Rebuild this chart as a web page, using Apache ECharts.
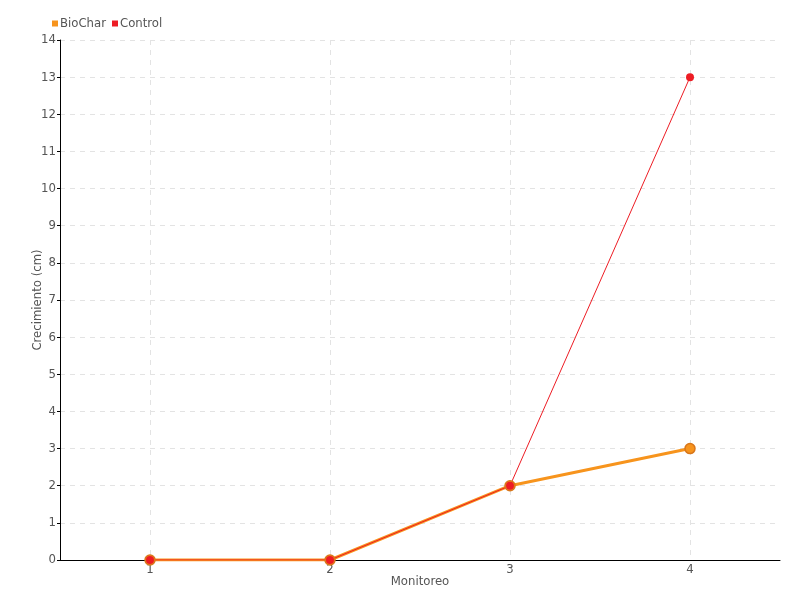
<!DOCTYPE html>
<html><head><meta charset="utf-8">
<script src="https://cdn.jsdelivr.net/npm/echarts@6/dist/echarts.min.js"></script>
<style>html,body{margin:0;padding:0;background:#fff}#c{width:800px;height:600px}</style>
</head><body><div id="c"></div>
<script>
const categories = ['1', '2', '3', '4'];
const biochar = [0, 0, 2, 3];
const control = [0, 0, 2, 13];
const yTicks = [0, 14, 1];

const FONT = 'DejaVu Sans Condensed, DejaVu Sans, sans-serif';
const chart = echarts.init(document.getElementById('c'), null, {renderer: 'canvas'});
chart.setOption({
  animation: false,
  textStyle: {fontFamily: FONT},
  legend: {
    left: 47, top: 12, itemWidth: 6, itemHeight: 6, itemGap: 6,
    icon: 'rect',
    itemStyle: {borderWidth: 0},
    textStyle: {fontFamily: FONT, fontSize: 13, color: '#555', padding: [0, 0, 0, -3]},
    data: ['BioChar', 'Control']
  },
  grid: {left: 60, right: 20, top: 40, bottom: 40},
  xAxis: {
    type: 'category', data: categories, boundaryGap: true,
    name: 'Monitoreo', nameLocation: 'middle', nameGap: 15, nameMoveOverlap: false,
    nameTextStyle: {fontFamily: FONT, fontSize: 13, color: '#555'},
    axisLine: {lineStyle: {color: '#000', width: 1}},
    axisTick: {alignWithLabel: true, length: 5, lineStyle: {color: '#000'}},
    axisLabel: {fontFamily: FONT, fontSize: 13, color: '#555', margin: 3},
    splitLine: {show: true, alignWithLabel: true, lineStyle: {type: [5, 5], color: '#e3e3e3'}}
  },
  yAxis: {
    type: 'value', min: yTicks[0], max: yTicks[1], interval: yTicks[2],
    name: 'Crecimiento (cm)', nameLocation: 'middle', nameGap: 16, nameMoveOverlap: false,
    nameTextStyle: {fontFamily: FONT, fontSize: 13, color: '#555'},
    axisLine: {show: true, lineStyle: {color: '#000', width: 1}},
    axisTick: {show: true, length: 3, lineStyle: {color: '#000'}},
    axisLabel: {fontFamily: FONT, fontSize: 13, color: '#555', margin: 4},
    splitLine: {show: true, lineStyle: {type: [5, 5], color: '#e3e3e3'}}
  },
  series: [
    {
      name: 'BioChar', type: 'line', data: biochar,
      symbol: 'circle', symbolSize: 10,
      lineStyle: {color: '#f7941d', width: 3},
      itemStyle: {color: '#f7941d', borderColor: '#d9771a', borderWidth: 1.5}
    },
    {
      name: 'Control', type: 'line', data: control,
      symbol: 'circle', symbolSize: 8,
      lineStyle: {color: '#ed1c24', width: 1},
      itemStyle: {color: '#ed1c24', borderColor: '#ed1c24', borderWidth: 0}
    }
  ]
});
</script></body></html>
